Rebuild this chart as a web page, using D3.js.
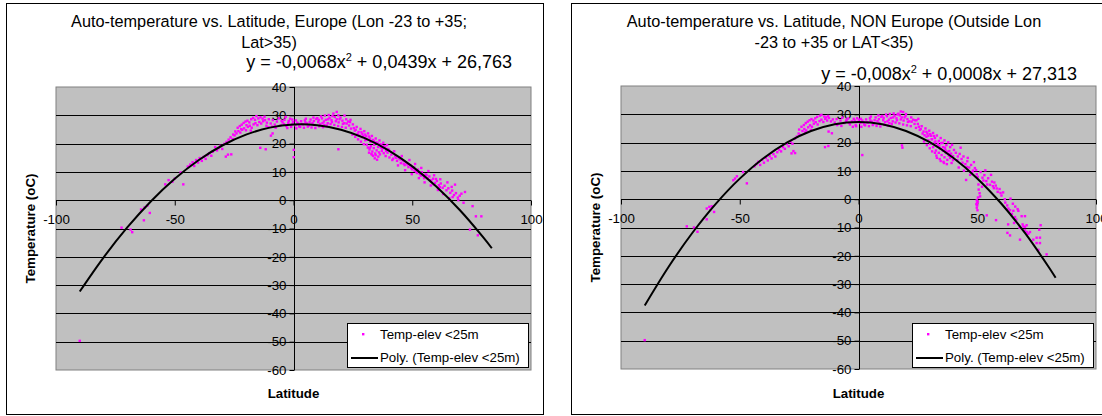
<!DOCTYPE html>
<html><head><meta charset="utf-8">
<script src="https://cdn.jsdelivr.net/npm/d3@7"></script>
<style>
html,body{margin:0;padding:0;background:#fff;}
svg{display:block;}
text{font-family:"Liberation Sans",Arial,Helvetica,sans-serif;fill:#000;}
</style>
</head><body>
<svg id="c" width="1102" height="416"></svg>
<script>
// ---------- DATA ----------
const xTicks = [-100, -50, 0, 50, 100];
const yTicks = [-60, -50, -40, -30, -20, -10, 0, 10, 20, 30, 40];
const xDomain = [-100, 100];
const yDomain = [-60, 40];

const euTitle = ["Auto-temperature vs. Latitude, Europe (Lon -23 to +35;", "Lat>35)"];
const nonTitle = ["Auto-temperature vs. Latitude, NON Europe (Outside Lon", "-23 to +35 or LAT<35)"];
const euEquation = ["y = -0,0068x", "2", " + 0,0439x + 26,763"];
const nonEquation = ["y = -0,008x", "2", " + 0,0008x + 27,313"];
const xAxisTitle = "Latitude";
const yAxisTitle = "Temperature (oC)";
const legendLabels = ["Temp-elev <25m", "Poly. (Temp-elev <25m)"];

// [latitude, temperature] – Europe subset
const euPoints = [
[-90,-49.7],[-72.4,-9.7],[-68.6,-10.4],[-67.9,-11.3],[-63,-7.1],[-64.2,-3.3],[-62.7,-2.6],[-60.5,-4.5],[-61.5,-1.9],
[-54,5.6],[-52.6,7.1],[-51,6.5],[-50,7.6],[-46.4,5.6],[-47.5,9.8],[-44.5,11.9],[-43.5,12.6],[-42.5,13.4],[-41.8,12.1],[-41,14.2],[-40.2,13.3],[-39.5,14.9],[-38.6,13.9],[-37.8,15.3],[-37,14.6],[-36.2,15.9],[-35.5,16.6],[-34.6,15.7],[-34,17.1],[-33,18.8],[-32.2,17.6],[-31.5,18.4],[-30.8,19.2],[-30,18.1],[-29.2,19.9],[-28.5,15.4],[-27.6,16.1],[-26.2,16.2],[-28.2,20.6],[-27.3,21.4],[-26.5,22.2],[-25.6,21.6],[-24.8,22.9],[-24,23.6],[-23.2,24.4],[-22.4,23.9],[-21.6,24.9],[-20.8,25.4],[-20,24.7],[-19.2,25.9],[-18.4,26.3],[-17.6,25.6],[-16.8,26.8],[-16,27.2],[-15.2,26.5],[-14.4,27.6],[-13.6,27.1],[-12.8,27.9],[-12,28.3],[-11.2,27.4],[-10.4,28.6],
[-23.5,25.6],[-22.6,26.2],[-21.8,26.7],[-21,27.3],[-20.2,27.8],[-19.4,28.1],[-18.6,27.5],[-17.8,28.6],[-17,29.1],[-16.2,28.4],[-15.6,29.7],[-14.8,28.9],[-13.9,29.3],[-13,28.8],[-12.2,29.5],[-11.4,26.3],[-10.6,25.8],[-19.8,26.5],[-18,24.6],[-22,25.1],[-24.5,24.3],[-25.4,23.2],
[-14,18.5],[-11.7,18],[-9.5,22.8],[-8.8,23.6],
[-9.6,27.1],[-8.7,28.3],[-7.9,26.7],[-7,27.8],[-6.2,28.9],[-5.4,26.4],[-4.6,27.5],[-3.8,28.4],[-3,26.2],[-2.2,27.3],[-1.4,28.8],[-0.6,26.8],[-3.3,29.4],[-1,25.9],[-2.6,25.5],[0.1,17.8],[0.1,15.2],[-0.2,27.6],
[-9,26],[-7.5,25.6],[-5,28],[-4,26.9],[-2,28],[-0.5,28.5],
[0.8,26.5],[1.6,27.4],[2.4,26.1],[3.2,27.9],[4,26.8],[4.8,28.2],[5.6,27.1],[6.4,26.4],[7.2,28.5],[8,27.3],[8.8,26.6],[9.6,28.7],[10.4,27.6],[11.2,26.9],[12,28.9],[12.8,27.8],[13.6,28.4],[14.4,27.2],[15.2,29.1],[16,28.3],[16.8,30.6],[18.2,31.2],[18.9,30],[17.4,29.4],[18.2,28.6],[19,27.5],[19.8,29.2],[20.6,28.1],[21.4,27.2],[22.2,28.6],[23,27.8],[23.4,26.4],
[1.2,25.4],[2.8,25.9],[4.4,25.6],[6,26],[7.6,25.7],[9.2,25.5],[10.8,26.1],[12.4,25.8],[14,26.4],[15.6,26.9],[17.2,26.6],[18.8,26.2],[20.4,25.9],[22,25.6],[5.2,28.8],[8.4,29.2],[11.6,29.6],[14.8,30.1],[16.4,29.7],[13.2,29.9],[10,29],
[1,28.2],[2,27],[3.6,26.9],[5,27.5],[6.8,27.6],[8.6,28],[10.6,28.4],[12.2,27.2],[13,26.6],[14.6,28.6],[16.2,27.6],[17.8,27.9],[19.4,28.6],[20.8,27],[22.4,27.1],[23.8,27.6],
[18.9,18],[21.5,29.9],[24,28.4],
[24.2,25.3],[25,26.8],[25.8,24.6],[26.6,25.9],[27.4,24.1],[28.2,25.2],[29,23.4],[29.8,24.4],[30.6,22.6],[31.4,23.6],[32.2,21.8],[33,22.7],[33.8,20.9],[34.6,21.8],[35.4,20.2],[36.2,21.1],[37,19.4],[37.8,20.3],[38.6,18.7],[39.4,19.5],[40.2,17.8],[24.8,23.2],[26,22.4],[27.2,21.5],[28.4,20.7],[29.6,19.8],[30.8,19.6],[31.3,18.6],[32,17.9],[32.6,19.1],[33.2,17.2],[33.8,18.4],[34.4,16.5],[35,17.6],[35.7,15.4],[34.2,14.8],[33.5,15.7],[32.8,16.4],[31.8,16.8],[35.2,14.3],[36.4,16.2],[37.2,17.4],[38,16.6],[38.8,15.6],[39.6,16.8],[40.4,15.1],[30.2,21.2],[28.8,22.3],[36.8,18.6],
[25.4,25.5],[26.2,24.9],[27,23.4],[27.8,22.8],[28.6,24],[29.4,22.6],[30.2,23.2],[31,21.4],[31.8,22.5],[32.4,20.6],[33.4,21.3],[34,19.6],[34.8,20.4],[35.6,18.8],[36.6,19.8],[37.4,18.2],[38.2,19.1],[39,17.4],[39.8,18.1],[33,16.1],[34.6,15.9],[36,16.9],[32.2,18.5],
[41.2,16.1],[42,14.7],[42.8,15.6],[43.6,13.9],[44.4,14.8],[45.2,13.1],[46,14],[46.8,12.4],[47.6,13.2],[48.4,11.7],[49.2,12.4],[50,10.9],[50.8,11.6],[51.6,10.1],[52.4,10.8],[53.2,9.3],[54,9.9],[54.8,8.5],[55.6,9.1],[56.4,7.7],[57.2,8.4],[58,6.9],[58.8,7.6],[59.6,6.1],[60.4,6.8],[61.2,5.3],[62,5.9],[62.8,4.4],[63.6,5.1],[64.4,3.5],[65.2,4.2],[66,2.6],[66.8,3.4],[67.6,1.8],[68.4,2.5],[69.2,0.9],[70,1.6],[70.7,2.3],[72.2,2.9],[66.6,4.7],[68,5.5],
[44,12.3],[47,10.6],[49.8,9.2],[52.8,7.8],[55.2,6.3],[57.8,5.2],[60.8,3.6],[63,2.2],[65.6,0.7],[67,1.1],[45.6,15.6],[48.8,14.2],[51.2,12.8],[53.8,11.4],[56.8,10.3],[59.2,8.8],[61.8,7.4],[64.8,6.3],[42.4,17.3],
[41.6,14.2],[43.2,15],[45,14.4],[46.4,12.9],[48,12.6],[49.6,11.3],[51,10.4],[52,9.6],[53.6,8.7],[55,7.8],[56,8.9],[57.6,7.1],[59,5.6],[60,7.5],[61.6,4.6],
[69.4,0],[71.6,-0.9],[75.4,-2.1],[76.8,-5.7],[79.1,-5.7],[74.3,-10.4],[77.6,-12.4]
];

// [latitude, temperature] – non-Europe subset
const nonPoints = [
[-90,-49.8],[-72.3,-9.6],[-69.3,-10.0],[-67.8,-11.5],[-63.9,-3.3],[-62.8,-2.7],[-61.8,-2.5],[-60.8,-4.5],[-63.9,-7.1],[-62.4,-3.8],
[-52.7,6.7],[-52,7.3],[-51.2,8.1],[-47,5.6],[-48.6,9.6],
[-43.8,11.6],[-43,12.4],[-42.2,13.2],[-41.4,12.1],[-40.6,13.9],[-39.8,12.9],[-39,14.6],[-38.2,13.7],[-37.4,15.2],[-36.6,14.4],[-35.8,15.9],[-35,15.1],[-34.2,16.6],[-33.4,17.5],[-32.6,16.9],[-31.8,18.4],[-31,17.8],[-30.2,19.5],[-29.4,18.7],[-28.6,20.3],[-27.8,19.6],[-27.4,17],[-28.2,16.2],[-26.7,16.3],[-26.8,21.4],[-26,22.1],[-25.2,23.2],[-24.4,22.7],[-23.6,24.1],[-22.8,24.8],[-22,24.3],[-21.2,25.4],[-20.4,26.1],[-19.6,25.6],[-18.8,26.7],[-18,27.2],[-17.2,26.4],[-16.4,27.6],[-15.6,28.1],[-14.8,27.3],[-14,28.4],[-13.2,27.8],[-12.4,28.7],[-11.6,27.5],[-10.8,28.2],
[-24,25.6],[-23,26.2],[-22.2,26.9],[-21.4,27.4],[-20.6,27.9],[-19.8,28.3],[-19,27.8],[-18.2,28.6],[-17.4,29.1],[-16.2,29.5],[-15.6,29.8],[-14.4,29.2],[-13.6,28.9],[-12.8,29.4],[-20,24.5],[-22.5,23.6],[-25,24.6],
[-14.1,18.4],[-12.7,18.8],[-12.6,23.9],[-11.2,23.3],
[-10,27.1],[-9.2,28.3],[-8.4,26.6],[-7.6,27.8],[-6.8,28.8],[-6,26.9],[-5.2,27.7],[-4.4,28.5],[-3.6,26.4],[-2.8,27.5],[-2,28.4],[-1.2,26.2],[-0.4,27.3],[-2.4,25.6],[-1,25.8],[0.2,28.1],[1.6,15.6],
[-9,26.2],[-7.2,25.9],[-5,28.1],[-4,27],[-1.6,27.8],[-0.6,28.6],
[0.8,26.9],[1.6,27.8],[2.4,26.4],[3.2,28.2],[4,27.1],[4.8,28.6],[5.6,27.4],[6.4,26.8],[7.2,28.9],[8,27.6],[8.8,26.9],[9.6,29.1],[10.4,27.9],[11.2,27.2],[12,29.3],[12.8,28.1],[13.6,28.7],[14.4,27.5],[15.2,29.5],[16,28.6],[16.8,30.2],[17.8,31],[18.8,30.8],[17.4,29.6],[18.2,28.9],[19,27.8],[19.8,29.4],[20.6,28.3],[21.4,27.5],[22.2,28.9],[23,28.1],[23.6,26.6],[24.4,27.9],[25.2,28.4],
[1.2,25.6],[2.8,26.1],[4.4,25.8],[6,26.2],[7.6,25.9],[9.2,25.7],[10.8,26.3],[12.4,26],[14,26.6],[15.6,27.1],[17.2,26.8],[18.8,26.4],[20.4,26.1],[22,25.8],[5.2,29.2],[8.4,29.6],[11.6,29.9],[14.8,30.3],[16.4,29.9],[13.2,30.1],[10,29.4],[20,30.1],
[1,28.4],[2,27.2],[3.6,27.2],[5,27.8],[6.8,27.9],[8.6,28.3],[10.6,28.7],[12.2,27.5],[13,26.9],[14.6,28.9],[16.2,27.9],[17.8,28.2],[19.4,28.9],[20.8,27.3],[22.4,27.4],[23.8,27.9],
[18.3,19],[18.5,18.2],
[24.2,25.2],[25,26.6],[25.8,24.5],[26.6,25.8],[27.4,23.9],[28.2,25],[29,23.2],[29.8,24.2],[30.6,22.4],[31.4,23.4],[32.2,21.6],[33,22.5],[33.8,20.6],[34.6,21.6],[35.4,19.9],[36.2,20.8],[37,19.1],[37.8,20.1],[38.6,18.4],[39.4,19.2],[40.2,17.4],
[28.6,22.1],[29.4,20.8],[30.2,19.6],[30.8,21.2],[31.4,18.4],[32,20],[32.6,17.2],[33.2,18.8],[33.8,16.4],[34.4,17.8],[35,15.6],[35.6,17.1],[36.2,14.8],[36.8,16.3],[37.4,13.9],[38,15.4],[38.6,14.6],[39.2,12.8],[39.8,13.8],[31,16.9],[32.8,15.4],[34.2,14.2],[35.8,13.2],[37.2,12.4],[30,18],[28.8,19.1],[36.4,18.2],[38.2,17],[27.6,20.4],
[25.4,25.6],[26.2,24.8],[27,23.2],[27.8,22.6],[28.6,23.8],[29.4,22.4],[30.2,23],[31,21.2],[31.8,22.3],[32.4,20.4],[33.4,19.6],[34,18.9],[34.8,19.8],[35.6,18.4],[36.6,17.4],[37.4,16.8],[38.2,15.9],[39,16.1],[39.8,15.2],[33,14.6],[34.6,13.5],[36,12.8],[32.2,16.4],
[41,16.4],[41.8,15.1],[42.6,16],[43.4,14.2],[44.2,15.1],[45,12.4],[45.3,6.8],[45.8,13.4],[46.6,11.2],[47.4,12.1],[48.2,10.1],[49,11],[49.8,8.8],[50.5,5.2],[50.6,3.4],[51,2.1],[51.2,1],[51.4,9.6],[52,4.4],[52.2,7.6],[53,8.5],[53.8,6.4],[54.6,7.4],[55.4,5.1],[56.2,6.2],[57,3.9],[57.2,5.9],[57.8,4.8],[58.6,2.6],[59.4,3.6],[60.2,1.3],[60.9,2.4],[61.6,0],[43,18.2],[46,14.6],[48.6,13.1],[44.4,10.1],[47,8.6],[42.2,11.2],[49.5,10.3],[53.4,10.2],[55.8,8.6],
[41.6,13.8],[43.8,12.9],[45.6,11.4],[47.8,9.6],[50.2,7.9],[52.6,6.6],[54.2,5.2],[56.6,4.6],[58.2,3.8],[59.8,2.2],
[49.8,-0.4],[49.9,-1.3],[50,-2.2],[49.8,-3],[50.1,-3.9],[50.3,0.6],[50.2,-0.9],[49.6,-1.8],
[64,0.2],[65,-1.6],[66,-2.6],[67,-3.5],[54,-5.7],[57.9,-7.4],[63.1,-3.3],[63.8,-3.9],[65.2,-4.1],[67.3,-4.1],[65.9,-6.3],[65.5,-8.4],[63,-8.9],[68.7,-6],[70.1,-6],[69.1,-8.9],[70.1,-9.8],[70.8,-9.2],[69.4,-9.6],[70.8,-11.6],[62.7,-11.9],[63.8,-12.8],[68,-14.3],[72.2,-11.6],[73.6,-14.3],[75,-13.6],[76.4,-13.6],[75,-15.5],[76.4,-15.5],[76.7,-9.2],[76.1,-10.8],[75.7,-17.9],[79.2,-19.5],[70.1,-11],[71.5,-12.2],[67.8,-10.1],[66.4,-7.2],[64.6,-5.2],[61.8,-1.2],[62.6,-2.2]
];

// polynomial trendline vertices [latitude, temperature]
const euTrend = [[-90,-32.27],[-80,-20.27],[-70,-9.63],[-60,-0.35],[-50,7.57],[-40,14.13],[-30,19.33],[-20,23.17],[-10,25.64],[0,26.76],[10,26.52],[20,24.92],[30,21.96],[40,17.64],[50,11.96],[60,4.92],[70,-3.48],[80,-13.25],[83.5,-16.98]];
const nonTrend = [[-90,-37.56],[-80,-23.95],[-70,-11.94],[-60,-1.54],[-50,7.27],[-40,14.48],[-30,20.09],[-20,24.10],[-10,26.51],[0,27.31],[10,26.52],[20,24.12],[30,20.14],[40,14.54],[50,7.35],[60,-1.44],[70,-11.83],[80,-23.85],[83,-27.73]];

// ---------- DRAWING ----------
const svg = d3.select("#c");
svg.append("rect").attr("width",1102).attr("height",416).attr("fill","#fff");
const FONT = '"Liberation Sans",Arial,sans-serif';

function drawChart(cfg){
  const ox = cfg.ox;
  const g = svg.append("g");
  g.append("rect").attr("x",ox+6.5).attr("y",3.5).attr("width",537).attr("height",411)
    .attr("fill","#fff").attr("stroke","#000").attr("stroke-width",1);

  const x = d3.scaleLinear().domain(xDomain).range([ox+56, ox+531]);
  const y = d3.scaleLinear().domain(yDomain).range([cfg.yBot, cfg.yTop]);

  g.append("rect").attr("x",x(-100)).attr("y",y(40)).attr("width",x(100)-x(-100)).attr("height",y(-60)-y(40))
    .attr("fill","#c0c0c0").attr("stroke","#808080").attr("stroke-width",1);

  g.append("g").selectAll("line").data(yTicks.filter(v=>v>-60 && v<40)).join("line")
    .attr("x1",x(-100)).attr("x2",x(100))
    .attr("y1",d=>Math.round(y(d))+0.5).attr("y2",d=>Math.round(y(d))+0.5)
    .attr("stroke","#000").attr("stroke-width",1);

  const x0 = Math.round(x(0))+0.5, y0 = Math.round(y(0))+0.5;

  const yAxis = d3.axisLeft(y).tickValues(yTicks).tickSize(5).tickPadding(3).tickFormat(d=>String(d));
  const ya = g.append("g").attr("transform",`translate(${x0},0)`).call(yAxis);
  ya.select(".domain").attr("stroke","#000").attr("d",`M0,${y(40)}V${y(-60)}`);
  ya.selectAll(".tick line").attr("stroke","#000");
  ya.selectAll(".tick text").attr("font-size","13.3px").attr("font-family",FONT).attr("fill","#000");

  const xAxis = d3.axisBottom(x).tickValues(xTicks).tickSize(5).tickPadding(9).tickFormat(d=>String(d));
  const xa = g.append("g").attr("transform",`translate(0,${y0})`).call(xAxis);
  xa.select(".domain").attr("stroke","#000").attr("d",`M${x(-100)},0H${x(100)}`);
  xa.selectAll(".tick line").attr("stroke","#000");
  xa.selectAll(".tick text").attr("font-size","13.3px").attr("font-family",FONT).attr("fill","#000");

  g.append("g").selectAll("rect").data(cfg.points).join("rect")
    .attr("x",d=>x(d[0])-1.2).attr("y",d=>y(d[1])-1.2)
    .attr("width",2.4).attr("height",2.4).attr("fill","#ff00ff");

  const line = d3.line().x(d=>x(d[0])).y(d=>y(d[1])).curve(d3.curveCatmullRom);
  g.append("path").datum(cfg.trend).attr("d",line).attr("fill","none").attr("stroke","#000").attr("stroke-width",2);

  cfg.title.forEach((t,i)=>{
    g.append("text").attr("x",ox+269).attr("y",27+i*21).attr("text-anchor","middle")
      .attr("font-size","16.3px").text(t);
  });
  const eq = g.append("text").attr("x",ox+512).attr("y",cfg.eqY).attr("text-anchor","end").attr("font-size","18px");
  eq.append("tspan").text(cfg.eq[0]);
  eq.append("tspan").attr("dy",-7).attr("font-size","11px").text(cfg.eq[1]);
  eq.append("tspan").attr("dy",7).attr("font-size","18px").text(cfg.eq[2]);

  g.append("text").attr("x",(x(-100)+x(100))/2).attr("y",398).attr("text-anchor","middle")
    .attr("font-size","13.3px").attr("font-weight","bold").text(xAxisTitle);
  g.append("text").attr("transform",`translate(${ox+35},${(y(40)+y(-60))/2}) rotate(-90)`)
    .attr("text-anchor","middle").attr("font-size","13.3px").attr("font-weight","bold").text(yAxisTitle);

  const lg = g.append("g");
  lg.append("rect").attr("x",ox+347.5).attr("y",323.5).attr("width",181).attr("height",44)
    .attr("fill","#fff").attr("stroke","#000").attr("stroke-width",1);
  lg.append("rect").attr("x",ox+362).attr("y",333).attr("width",2.4).attr("height",2.4).attr("fill","#ff00ff");
  lg.append("line").attr("x1",ox+351).attr("x2",ox+378).attr("y1",358).attr("y2",358).attr("stroke","#000").attr("stroke-width",2);
  lg.append("text").attr("x",ox+380).attr("y",338.5).attr("font-size","13.3px").text(legendLabels[0]);
  lg.append("text").attr("x",ox+380).attr("y",362).attr("font-size","13.3px").text(legendLabels[1]);
}

drawChart({ox:0, yTop:87, yBot:370, points:euPoints, trend:euTrend, title:euTitle, eq:euEquation, eqY:68});
drawChart({ox:565, yTop:86, yBot:369, points:nonPoints, trend:nonTrend, title:nonTitle, eq:nonEquation, eqY:80});
</script>
</body></html>
